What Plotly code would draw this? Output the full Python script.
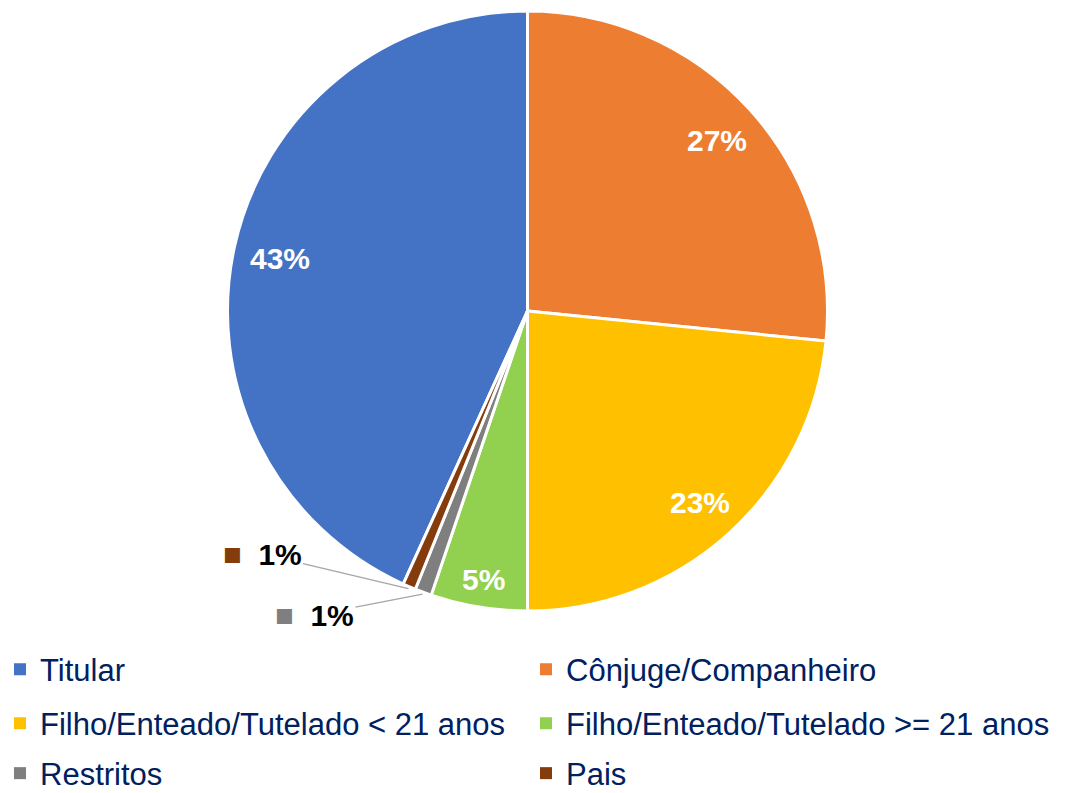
import math
import plotly.graph_objects as go

labels = ["Titular", "Cônjuge/Companheiro", "Filho/Enteado/Tutelado < 21 anos",
          "Filho/Enteado/Tutelado >= 21 anos", "Restritos", "Pais"]
values = [43.2, 26.6, 23.4, 5.2, 0.9, 0.7]
colors = ["#4472C4", "#ED7D31", "#FFC000", "#92D050", "#7F7F7F", "#843C0C"]
inside_labels = [True, True, True, True, False, False]

W, H = 1066, 793
FONT = "Arial, 'Liberation Sans', sans-serif"
LABEL_SIZE = 30

# pie geometry (pixels)
cx, cy, R = 527.5, 311.0, 300.0
dom_x = [(cx - R) / W, (cx + R) / W]
dom_y = [1 - (cy + R) / H, 1 - (cy - R) / H]

total = sum(values)
rotation = 360.0 * (1 - values[0] / total)

fig = go.Figure()
fig.add_trace(go.Pie(
    labels=labels, values=values, sort=False, direction="clockwise",
    rotation=rotation,
    marker=dict(colors=colors, line=dict(color="white", width=3)),
    textinfo="none",
    domain=dict(x=dom_x, y=dom_y),
    showlegend=False, hoverinfo="label+percent",
))

# legend entries (3 rows x 2 columns)
legend_names = ["legend", "legend", "legend2", "legend2", "legend3", "legend3"]
for lab, col, lg in zip(labels, colors, legend_names):
    fig.add_trace(go.Scatter(
        x=[None], y=[None], mode="markers", name=lab, legend=lg,
        marker=dict(symbol="square", size=12, color=col), showlegend=True,
        hoverinfo="skip",
    ))

# data labels
outside_targets = {4: (314.5, 615.0), 5: (262.0, 554.0)}  # label box centres (px)
INNER_EDGE = 285.0
cum = 0.0
for i, v in enumerate(values):
    a0 = rotation + 360.0 * cum / total
    cum += v
    mid = math.radians(a0 + 180.0 * v / total)
    s, c = math.sin(mid), -math.cos(mid)
    pct = max(round(100 * v / total), 1)
    txt = f"{pct}%"
    if inside_labels[i]:
        # "inside end" placement: outer corner of the label box near the rim
        w = LABEL_SIZE * (0.556 * (len(txt) - 1) + 0.889)
        h = LABEL_SIZE * 0.716
        d = INNER_EDGE - (abs(s) * w / 2 + abs(c) * h / 2)
        px, py = cx + d * s, cy + d * c
        fig.add_annotation(
            x=px / W, y=1 - (py + 1) / H, xref="paper", yref="paper",
            text=txt, showarrow=False, xanchor="center", yanchor="middle",
            font=dict(family=FONT, size=LABEL_SIZE, color="white", weight="bold"),
        )
    else:
        hx, hy = cx + (R + 2) * s, cy + (R + 2) * c
        tx, ty = outside_targets[i]
        fig.add_annotation(
            x=hx / W, y=1 - hy / H, xref="paper", yref="paper",
            text=f"<span style='color:{colors[i]};font-size:31px'>■</span>  {txt}",
            showarrow=True, arrowhead=0, arrowwidth=1.3, arrowcolor="#A6A6A6",
            ax=tx - hx, ay=ty - hy, standoff=0,
            font=dict(family=FONT, size=LABEL_SIZE, color="black", weight="bold"),
        )

leg_common = dict(orientation="h", x=0, xanchor="left", yanchor="middle",
                  entrywidth=481, entrywidthmode="pixels", itemwidth=30,
                  font=dict(family=FONT, size=31, color="#002060"),
                  bgcolor="rgba(0,0,0,0)", itemclick=False, itemdoubleclick=False)
fig.update_layout(
    width=W, height=H,
    margin=dict(l=0, r=0, t=0, b=0, autoexpand=False),
    paper_bgcolor="white", plot_bgcolor="white",
    xaxis=dict(visible=False), yaxis=dict(visible=False),
    legend=dict(**leg_common, y=1 - 669.5 / H),
    legend2=dict(**leg_common, y=1 - 723.5 / H),
    legend3=dict(**leg_common, y=1 - 773.5 / H),
)

fig.write_html("out.html", config={"displayModeBar": False},
               post_script="document.body.style.margin='0';")
